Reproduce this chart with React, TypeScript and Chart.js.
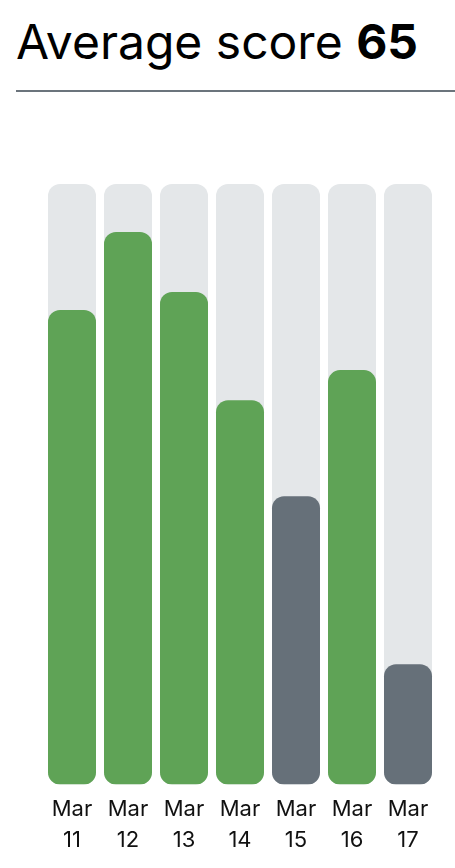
import React, { useEffect, useRef } from "react";
import { Chart, registerables } from "chart.js";

Chart.register(...registerables);

const categories: string[][] = [
  ["Mar", "11"],
  ["Mar", "12"],
  ["Mar", "13"],
  ["Mar", "14"],
  ["Mar", "15"],
  ["Mar", "16"],
  ["Mar", "17"],
];
const scores: number[] = [79, 92, 82, 64, 48, 69, 20];
const maxScore: number[] = [100, 100, 100, 100, 100, 100, 100];
const averageScore = 65;
const passThreshold = 60;

const GREEN = "#5fa356";
const GREY = "#667079";
const TRACK = "#e4e7e9";

export default function App() {
  const canvasRef = useRef<HTMLCanvasElement | null>(null);

  useEffect(() => {
    if (!canvasRef.current) return;
    const chart = new Chart(canvasRef.current, {
      type: "bar",
      data: {
        labels: categories,
        datasets: [
          {
            label: "Score",
            data: scores,
            backgroundColor: scores.map((v) => (v >= passThreshold ? GREEN : GREY)),
            borderRadius: 12,
            borderSkipped: false,
            grouped: false,
            order: 1,
            categoryPercentage: 1,
            barPercentage: 48 / 56,
          },
          {
            label: "Max",
            data: maxScore,
            backgroundColor: TRACK,
            borderRadius: 12,
            borderSkipped: false,
            grouped: false,
            order: 2,
            categoryPercentage: 1,
            barPercentage: 48 / 56,
          },
        ],
      },
      options: {
        animation: false,
        responsive: true,
        maintainAspectRatio: false,
        layout: { padding: { left: 44, right: 19, top: 84, bottom: 10 } },
        plugins: { legend: { display: false }, tooltip: { enabled: false }, title: { display: false } },
        scales: {
          x: {
            grid: { display: false },
            border: { display: false },
            ticks: {
              color: "#111111",
              font: { family: "Inter", size: 22, lineHeight: 1.4 },
              padding: 2,
              maxRotation: 0,
              autoSkip: false,
            },
          },
          y: {
            display: false,
            min: 0,
            max: 100,
          },
        },
      },
    });
    return () => chart.destroy();
  }, []);

  return (
    <div style={{ position: "fixed", left: 0, top: 0, width: 455, height: 868, background: "#fff" }}>
      <div
        style={{
          position: "absolute",
          left: 16,
          top: 0,
          width: 439,
          height: 92,
          borderBottom: "2px solid #6b747c",
          boxSizing: "border-box",
          fontFamily: "Inter",
          fontSize: 48,
          lineHeight: "84px",
          color: "#000",
          whiteSpace: "nowrap",
        }}
      >
        Average score <b style={{ fontWeight: 700 }}>{averageScore}</b>
      </div>
      <div style={{ position: "absolute", left: 0, top: 100, width: 455, height: 768 }}>
        <canvas ref={canvasRef} />
      </div>
    </div>
  );
}
